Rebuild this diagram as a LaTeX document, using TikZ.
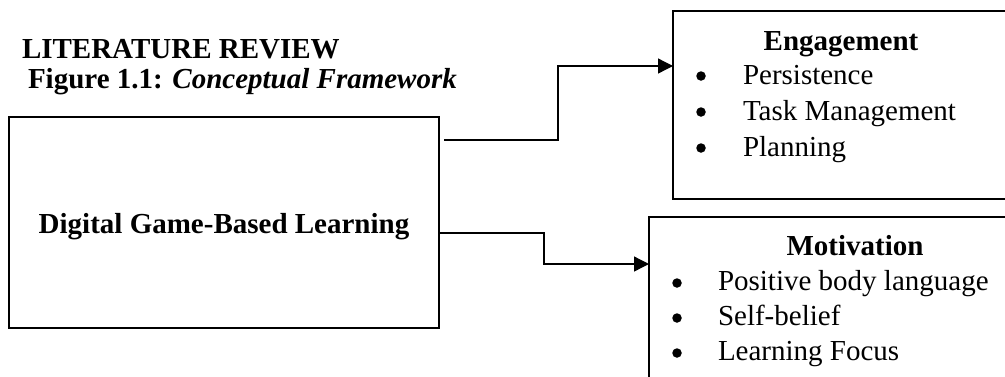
\documentclass[tikz,border=0pt]{standalone}
\usepackage{fontspec}
\setmainfont{Liberation Serif}
\usetikzlibrary{arrows.meta}
\begin{document}
\begin{tikzpicture}[x=1pt,y=-1pt,
  every node/.style={font=\fontsize{29}{35}\selectfont, inner sep=0pt, outer sep=0pt},
  box/.style={draw, line width=2.5pt, rectangle, anchor=north west},
  conn/.style={line width=1.3pt, -{Triangle[length=15pt,width=15pt]}},
  txt/.style={anchor=base west},
  ttl/.style={anchor=base, font=\fontsize{29}{35}\selectfont\bfseries},
  bul/.style={circle, fill=black, minimum size=9.5pt}]
\useasboundingbox (0,0) rectangle (1005,376);
\clip (0,0) rectangle (1005,376);
% titles
\node[txt, font=\fontsize{29}{35}\selectfont\bfseries] (lit) at (22,58) {LITERATURE REVIEW};
\node[txt] (fig) at (28,88) {\textbf{Figure 1.1:} \textbf{\textit{Conceptual Framework}}};
% boxes
\node[box, minimum width=430pt, minimum height=211pt] (dgbl) at (9,117) {};
\node[ttl] (dgbltxt) at (224,233) {Digital Game-Based Learning};
\node[box, minimum width=400pt, minimum height=188pt] (eng) at (673,11) {};
\node[box, minimum width=420pt, minimum height=220pt] (mot) at (649,217) {};
% engagement content
\node[ttl] (engt) at (841,50) {Engagement};
\node[bul] (eb1) at (701,76) {};
\node[bul] (eb2) at (701,112) {};
\node[bul] (eb3) at (701,148) {};
\node[txt] (e1) at (743,84) {Persistence};
\node[txt] (e2) at (743,120) {Task Management};
\node[txt] (e3) at (743,156) {Planning};
% motivation content
\node[ttl] (mott) at (855,255) {Motivation};
\node[bul] (mb1) at (677,283) {};
\node[bul] (mb2) at (677,318) {};
\node[bul] (mb3) at (677,353) {};
\node[txt] (m1) at (718,290) {Positive body language};
\node[txt] (m2) at (718,325) {Self-belief};
\node[txt] (m3) at (718,360) {Learning Focus};
% connectors
\coordinate (a1s) at (444,140);
\draw[conn] (a1s) -- (558,140) |- (eng.west |- 0,66);
\draw[conn] (dgbl.east |- 0,233) -- (544,233) |- (mot.west |- 0,264);
\end{tikzpicture}
\end{document}
